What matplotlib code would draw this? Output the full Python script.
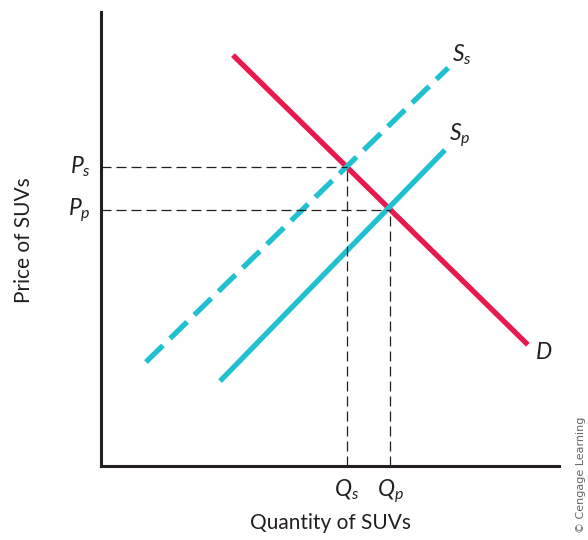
import matplotlib.pyplot as plt

plt.rcParams['font.family'] = ['Lato', 'DejaVu Sans']
plt.rcParams['mathtext.fontset'] = 'custom'
plt.rcParams['mathtext.it'] = 'Lato:italic'
plt.rcParams['mathtext.rm'] = 'Lato'

# Curve endpoints (chart units, 0-100)
demand_x = [28.8, 93.2]
demand_y = [90.5, 26.7]
supply_s_x = [9.8, 75.8]
supply_s_y = [22.9, 87.7]
supply_p_x = [26.0, 75.1]
supply_p_y = [18.7, 69.6]

# Equilibrium prices / quantities
price_vals = [65.9, 56.4]
price_labels = ['$P_s$', '$P_p$']
qty_vals = [53.7, 63.1]
qty_labels = ['$Q_s$', '$Q_p$']

red = '#E8194F'
teal = '#1FC1D1'
ink = '#231F20'

fig = plt.figure(figsize=(5.88, 5.40), dpi=100)
ax = fig.add_axes([101 / 588, 74 / 540, 458 / 588, 454 / 540])
ax.set_xlim(0, 100)
ax.set_ylim(0, 100)

ax.plot(demand_x, demand_y, color=red, lw=3.8, solid_capstyle='butt')
ax.plot(supply_s_x, supply_s_y, color=teal, lw=3.8, dashes=(4.5, 1.9),
        dash_capstyle='butt')
ax.plot(supply_p_x, supply_p_y, color=teal, lw=3.8, solid_capstyle='butt')

for p, q in zip(price_vals, qty_vals):
    ax.plot([0, q], [p, p], color=ink, lw=0.9, dashes=(8, 4))
    ax.plot([q, q], [0, p], color=ink, lw=0.9, dashes=(8, 4))

for p, lab in zip(price_vals, price_labels):
    ax.text(-2.2, p, lab, ha='right', va='center', fontsize=16.5, color=ink)
for q, lab in zip(qty_vals, qty_labels):
    ax.text(q, -2.5, lab, ha='center', va='top', fontsize=16.5, color=ink)

ax.text(supply_s_x[1] + 0.8, supply_s_y[1] + 0.2, '$S_s$', fontsize=16.5,
        color=ink, ha='left', va='bottom')
ax.text(supply_p_x[1] + 0.8, supply_p_y[1] + 0.2, '$S_p$', fontsize=16.5,
        color=ink, ha='left', va='bottom')
ax.text(demand_x[1] + 1.5, demand_y[1] - 1.8, '$D$', fontsize=16.5,
        color=ink, ha='left', va='center')

ax.set_xticks([])
ax.set_yticks([])
for s in ['top', 'right']:
    ax.spines[s].set_visible(False)
for s in ['left', 'bottom']:
    ax.spines[s].set_linewidth(2.2)
    ax.spines[s].set_color(ink)

fig.text(330 / 588, 1 - 523 / 540, 'Quantity of SUVs', ha='center', va='center',
         fontsize=15, color=ink)
fig.text(24 / 588, 1 - 240 / 540, 'Price of SUVs', ha='center', va='center',
         rotation=90, fontsize=15, color=ink)
fig.text(581 / 588, 1 - 475 / 540, '\u00a9 Cengage Learning', ha='center',
         va='center', rotation=90, fontsize=8, color='#666666',
         family='Liberation Sans Narrow')

fig.savefig('out.png', dpi=100)
